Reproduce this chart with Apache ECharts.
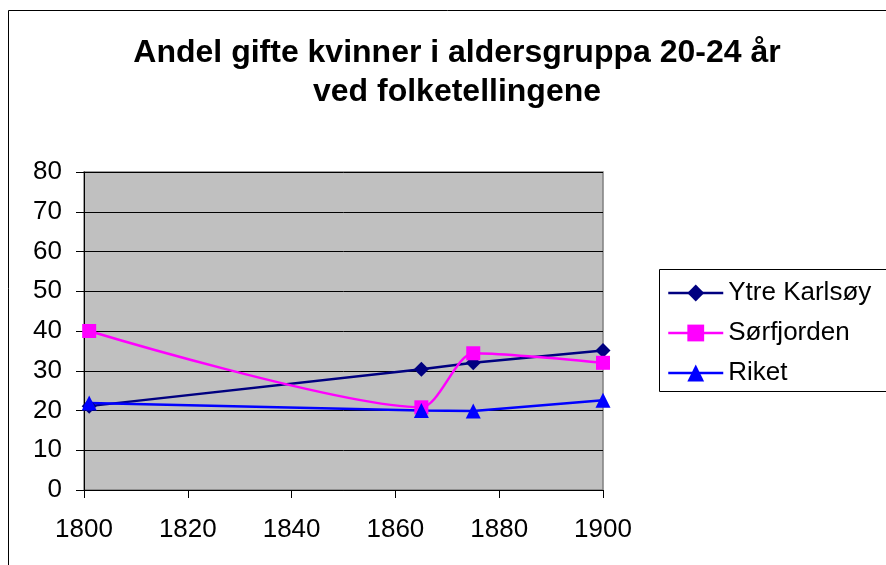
<!DOCTYPE html>
<html>
<head>
	<meta charset="utf-8">
	<script src="https://cdn.jsdelivr.net/npm/echarts@6/dist/echarts.min.js"></script>
	<style>
		html, body { margin:0; padding:0; background:#fff; }
		#chart { width:886px; height:565px; }
	</style>
</head>
<body>
<div id="chart"></div>
<script>
	// census years
	var years = [1801, 1865, 1875, 1900];
	// share of married women aged 20-24 (%)
	var ytreKarlsoy = [21.1, 30.4, 32, 35.1];
	var sorfjorden = [40, 20.8, 34.4, 32];
	var riket = [21.9, 20, 19.9, 22.6];
	var seriesNames = ['Ytre Karlsøy', 'Sørfjorden', 'Riket'];

	function pairs(vals){
		return years.map(function(y, i){ return [y, vals[i]]; });
	}

	var font = 'Liberation Sans, Arial, sans-serif';
	var chart = echarts.init(document.getElementById('chart'));
	option = {
		backgroundColor: '#fff',
		animation: false,
		title: {
			text: 'Andel gifte kvinner i aldersgruppa 20-24 år\nved folketellingene',
			left: 452,
			top: 29,
			textAlign: 'center',
			textStyle: {
				fontFamily: font,
				fontWeight: 'bold',
				fontSize: 32,
				lineHeight: 39,
				color: '#000'
			}
		},
		legend: {
			orient: 'vertical',
			left: 667,
			top: 280,
			padding: 0,
			itemWidth: 55,
			itemHeight: 21,
			itemGap: 14,
			lineStyle: { width: 2.5 },
			textStyle: {
				fontFamily: font,
				fontSize: 26,
				lineHeight: 26,
				color: '#000'
			},
			data: seriesNames
		},
		graphic: [
			{
				type: 'rect',
				shape: { x: 8.5, y: 10.5, width: 1000, height: 1000 },
				style: { fill: 'none', stroke: '#000', lineWidth: 1 },
				silent: true
			},
			{
				type: 'rect',
				shape: { x: 659.5, y: 269.5, width: 300, height: 122 },
				style: { fill: 'none', stroke: '#000', lineWidth: 1 },
				silent: true
			}
		],
		grid: {
			left: 84,
			right: 283,
			top: 172,
			bottom: 75,
			show: true,
			backgroundColor: '#C0C0C0',
			borderColor: '#808080',
			borderWidth: 1.5
		},
		xAxis: {
			type: 'value',
			min: 1800,
			max: 1900,
			interval: 20,
			axisLine: { show: true, lineStyle: { color: '#000', width: 1 } },
			axisTick: { show: true, inside: false, length: 8, lineStyle: { color: '#000' } },
			axisLabel: {
				margin: 27,
				fontFamily: font,
				fontSize: 26,
				color: '#000',
				formatter: function(v){ return String(v); }
			},
			splitLine: { show: false }
		},
		yAxis: {
			type: 'value',
			min: 0,
			max: 80,
			interval: 10,
			axisLine: { show: true, lineStyle: { color: '#000', width: 1 } },
			axisTick: { show: true, inside: false, length: 8, lineStyle: { color: '#000' } },
			axisLabel: { margin: 22, fontFamily: font, fontSize: 26, color: '#000' },
			splitLine: { show: true, lineStyle: { color: '#000', width: 1 } }
		},
		series: [
			{
				name: seriesNames[0],
				type: 'line',
				data: pairs(ytreKarlsoy),
				symbol: 'diamond',
				symbolSize: 15,
				color: '#000080',
				lineStyle: { width: 2.5, color: '#000080' },
				itemStyle: { color: '#000080' }
			},
			{
				name: seriesNames[1],
				type: 'line',
				data: pairs(sorfjorden),
				smooth: 0.25,
				symbol: 'rect',
				symbolSize: 14,
				color: '#FF00FF',
				lineStyle: { width: 2.5, color: '#FF00FF' },
				itemStyle: { color: '#FF00FF' }
			},
			{
				name: seriesNames[2],
				type: 'line',
				data: pairs(riket),
				symbol: 'triangle',
				symbolSize: 15,
				color: '#0000FF',
				lineStyle: { width: 2.5, color: '#0000FF' },
				itemStyle: { color: '#0000FF' }
			}
		]
	};
	chart.setOption(option);
</script>
</body>
</html>
